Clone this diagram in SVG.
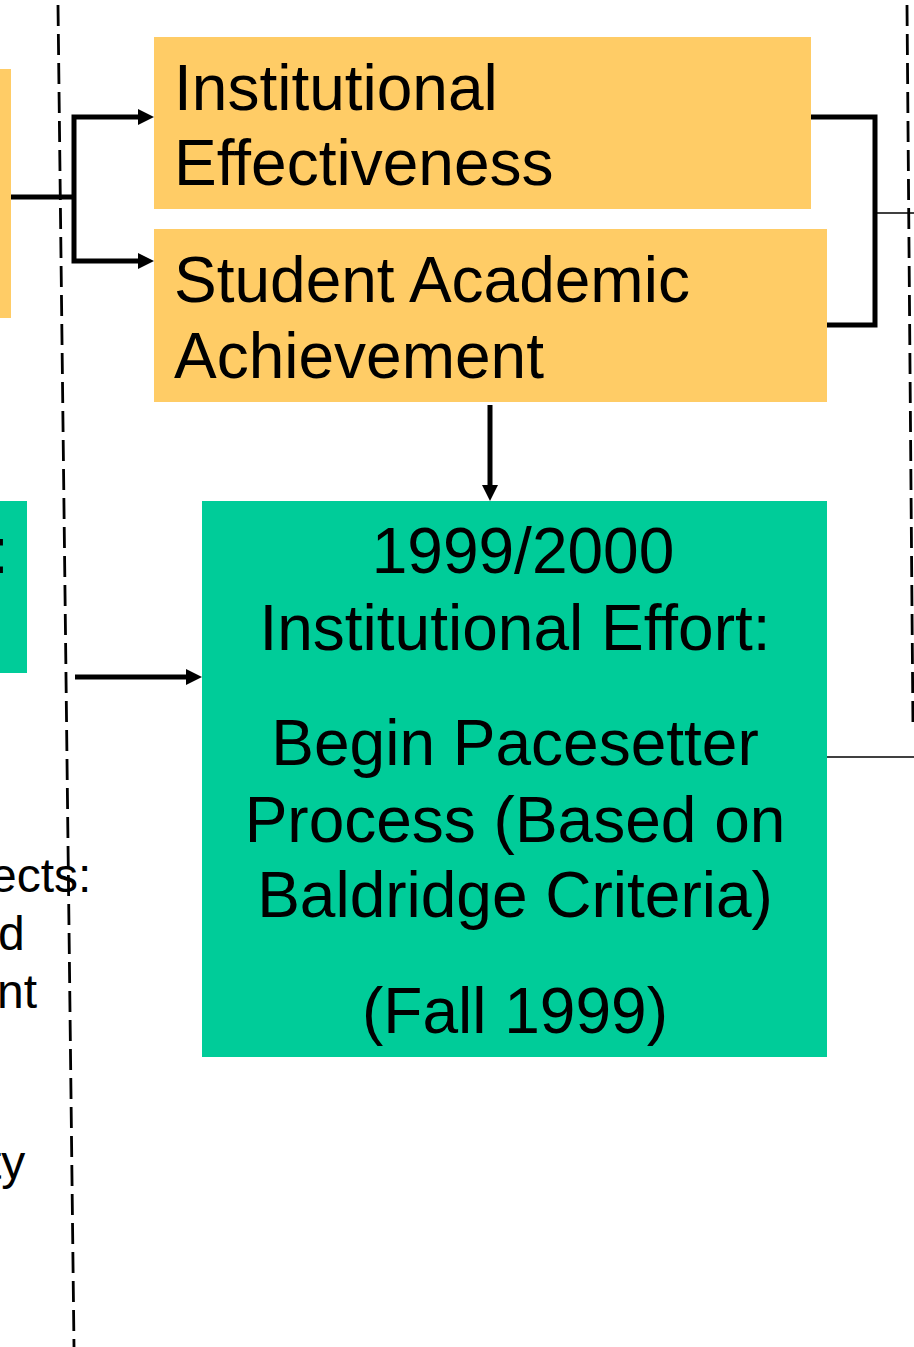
<svg xmlns="http://www.w3.org/2000/svg" width="914" height="1347" viewBox="0 0 914 1347">
<style>
.t{font-family:"Liberation Sans",Arial,sans-serif;font-size:64px;fill:#000}
.s{font-family:"Liberation Sans",Arial,sans-serif;font-size:48px;fill:#000}
.or{fill:#FFCC66}
.gr{fill:#00CC99}
.thick{stroke:#000;stroke-width:5;fill:none}
.thin{stroke:#000;stroke-width:1.5;fill:none}
.dash{stroke:#000;stroke-width:2.8;stroke-dasharray:21 8;fill:none}
</style>
<defs>
<marker id="ah" viewBox="0 0 18 18" refX="18" refY="9" markerUnits="userSpaceOnUse" markerWidth="18" markerHeight="18" orient="auto" overflow="visible">
<path d="M0,0 L18,9 L0,18 z" fill="#000"/>
</marker>
</defs>
<rect width="914" height="1347" fill="#fff"/>
<g id="dividers">
<line class="dash" x1="58" y1="5" x2="74" y2="1347"/>
<line class="dash" x1="907" y1="5" x2="913" y2="730"/>
</g>
<g id="node-left-orange"><rect class="or" x="-5" y="69" width="16" height="249"/></g>
<g id="node-left-green"><rect class="gr" x="-5" y="501" width="32" height="172"/>
<text class="t" x="-9" y="573">:</text></g>
<g id="node-left-text">
<text class="s" x="-10" y="892">ects:</text>
<text class="s" x="-2" y="950">d</text>
<text class="s" x="-3" y="1008">nt</text>
<text class="s" x="-12" y="1179">ty</text>
</g>
<g id="node-ie"><rect class="or" x="154" y="37" width="657" height="172"/>
<text class="t" x="174" y="110">Institutional</text>
<text class="t" x="174" y="185">Effectiveness</text></g>
<g id="node-saa"><rect class="or" x="154" y="229" width="673" height="173"/>
<text class="t" x="174" y="302">Student Academic</text>
<text class="t" x="174" y="378">Achievement</text></g>
<g id="node-effort"><rect class="gr" x="202" y="501" width="625" height="556"/>
<g text-anchor="middle">
<text class="t" x="523" y="573">1999/2000</text>
<text class="t" x="515" y="650">Institutional Effort:</text>
<text class="t" x="515" y="765">Begin Pacesetter</text>
<text class="t" x="515" y="842">Process (Based on</text>
<text class="t" x="515" y="917">Baldridge Criteria)</text>
<text class="t" x="515" y="1033">(Fall 1999)</text>
</g></g>
<g id="connectors">
<path class="thick" d="M11,197 H74"/>
<path class="thick" d="M74,197 V117 H140"/>
<path class="thick" d="M74,197 V261 H140"/>
<path class="thick" d="M811,117 H875 V325 H827"/>
<path class="thin" d="M875,213 H914"/>
<path class="thick" d="M490,405 V486"/>
<path class="thick" d="M75,677 H188"/>
<path class="thin" d="M827,757 H914"/>
<g fill="#000">
<path d="M138,109 L154,117 L138,125 z"/>
<path d="M138,253 L154,261 L138,269 z"/>
<path d="M482,485 L490,501 L498,485 z"/>
<path d="M186,669 L202,677 L186,685 z"/>
</g>
</g>
</svg>
